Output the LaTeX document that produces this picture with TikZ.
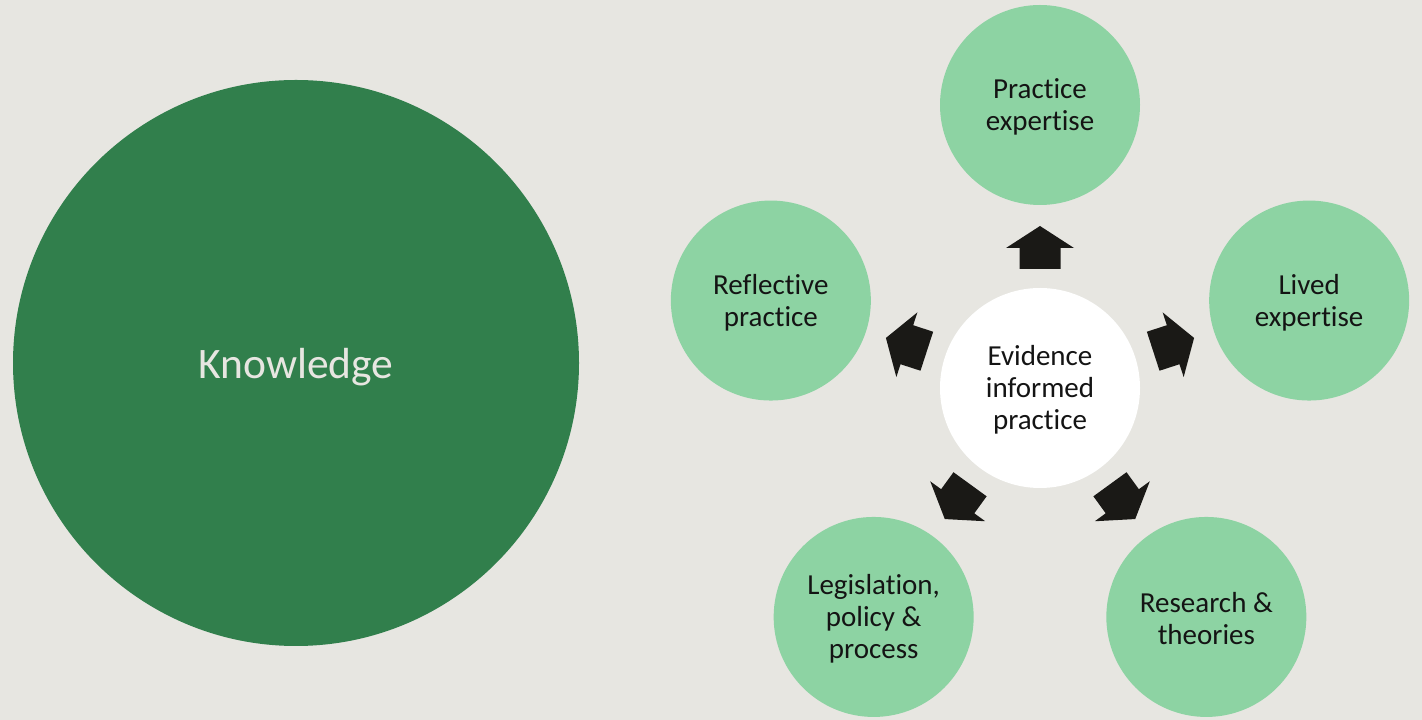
\documentclass[tikz,border=0pt]{standalone}
\usepackage{fontspec}
\setmainfont{Carlito}[Ligatures=NoCommon]
\usetikzlibrary{calc}
\begin{document}
\begin{tikzpicture}[x=1pt,y=1pt]
\definecolor{bg}{HTML}{E7E6E1}
\definecolor{darkgreen}{HTML}{317F4C}
\definecolor{lightgreen}{HTML}{8DD3A3}
\definecolor{arrowfill}{HTML}{1A1916}
\definecolor{txt}{HTML}{141414}
\tikzset{
  outer/.style={circle, fill=lightgreen, minimum size=200pt, inner sep=0pt},
  centre/.style={circle, fill=white, minimum size=200pt, inner sep=0pt},
  bigcirc/.style={circle, fill=darkgreen, minimum size=566pt, inner sep=0pt},
  lbl/.style={align=center, text=txt, inner sep=0pt, font=\fontsize{29}{32}\selectfont},
  biglbl/.style={text=bg, inner sep=0pt, font=\fontsize{43.5}{48}\selectfont},
  blockarrow/.style={fill=arrowfill}
}
\fill[bg] (0,0) rectangle (1422,720);
\useasboundingbox (0,0) rectangle (1422,720);
\node[bigcirc] (know) at (296,357) {};
\node[biglbl] (knowt) at ([yshift=-4pt]know.center) {Knowledge};
\coordinate (c) at (1040,332);
\node[centre] (eip) at (c) {};
\node[outer] (pe) at ($(c)+(90:283)$) {};
\node[outer] (le) at ($(c)+(18:283)$) {};
\node[outer] (rt) at ($(c)+(-54:283)$) {};
\node[outer] (lp) at ($(c)+(-126:283)$) {};
\node[outer] (rp) at ($(c)+(162:283)$) {};
\node[lbl] (eipt) at ([yshift=-2pt]eip.center) {Evidence\\informed\\practice};
\node[lbl] (pet) at ([yshift=-2pt]pe.center) {Practice\\expertise};
\node[lbl] (let) at ([yshift=-2pt]le.center) {Lived\\expertise};
\node[lbl] (rtt) at ([yshift=-2pt]rt.center) {Research \&\\theories};
\node[lbl] (lpt) at ([yshift=-2pt]lp.center) {Legislation,\\policy \&\\process};
\node[lbl] (rpt) at ([yshift=-2pt]rp.center) {Reflective\\practice};
\foreach \a in {90,18,-54,-126,162}{
  \fill[blockarrow, shift={(c)}, rotate=\a]
    (119,-20.5) -- (140,-20.5) -- (140,-34) -- (162,0) -- (140,34) -- (140,20.5) -- (119,20.5) -- cycle;
}
\end{tikzpicture}
\end{document}
